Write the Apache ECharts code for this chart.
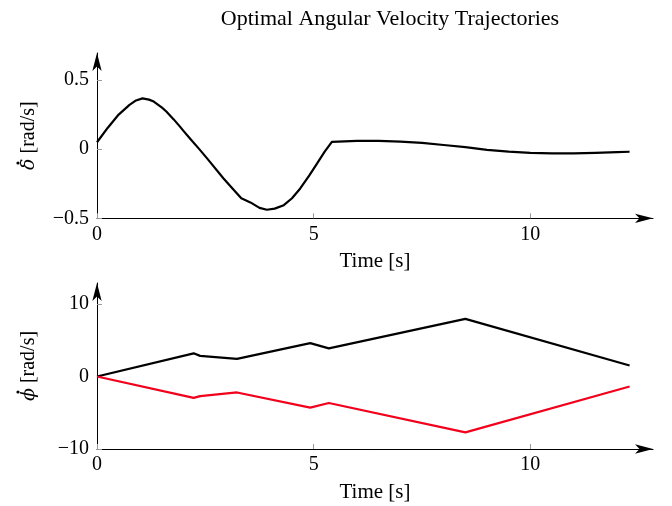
<!DOCTYPE html>
<html>
<head>
<meta charset="utf-8">
<script src="https://cdn.jsdelivr.net/npm/echarts@6/dist/echarts.min.js"></script>
<style>
  html, body { margin: 0; padding: 0; background: #fff; }
  #main { width: 672px; height: 506px; }
</style>
</head>
<body>
<div id="main"></div>
<script>
  // δ̇ (top plot) — time [s], rate [rad/s]
  var deltaT = [0, 0.25, 0.5, 0.75, 0.9, 1.05, 1.2, 1.31, 1.5, 1.6, 1.77, 1.9, 2.0, 2.15, 2.36,
                2.54, 2.92, 3.23, 3.33, 3.54, 3.75, 3.92, 4.1, 4.31, 4.5, 4.69, 4.9, 5.08, 5.25,
                5.42, 6.0, 6.5, 7.0, 7.5, 8.0, 8.5, 9.0, 9.5, 10.0, 10.5, 11.0, 11.5, 12.0, 12.29];
  var deltaV = [0.05, 0.155, 0.25, 0.32, 0.352, 0.367, 0.358, 0.344, 0.3, 0.272, 0.215, 0.168, 0.13, 0.075, 0.0,
                -0.067, -0.212, -0.32, -0.355, -0.385, -0.425, -0.438, -0.43, -0.405, -0.355, -0.284, -0.19, -0.103, -0.02,
                0.053, 0.06, 0.06, 0.055, 0.045, 0.03, 0.015, -0.005, -0.018, -0.027, -0.03, -0.03, -0.027, -0.022, -0.019];

  // φ̇ (bottom plot), two wheels
  var phiT = [0, 2.23, 2.38, 3.23, 4.92, 5.35, 8.5, 12.29];
  var phiBlack = [0, 3.2, 2.85, 2.44, 4.6, 3.88, 7.95, 1.52];
  var phiRed = [0, -2.95, -2.7, -2.2, -4.3, -3.65, -7.7, -1.38];

  var xTicks = [0, 5, 10];
  var deltaTicks = [-0.5, 0, 0.5];
  var phiTicks = [-10, 0, 10];

  function pairs(xs, ys) {
    return xs.map(function (x, i) { return [x, ys[i]]; });
  }
  function fmt(v) {
    return String(v).replace('-', '\u2212');
  }

  var serif = '"Liberation Serif", "DejaVu Serif", serif';
  var arrowLine = {
    onZero: false,
    symbol: ['none', 'arrow'],
    symbolSize: [7, 18],
    lineStyle: { color: '#000', width: 1 }
  };

  function xAxis(idx) {
    return {
      type: 'value', gridIndex: idx, min: 0, max: 12.83,
      name: 'Time [s]', nameLocation: 'middle', nameGap: 33,
      nameTextStyle: { fontFamily: serif, fontSize: 21, color: '#000' },
      axisLine: arrowLine,
      axisTick: { inside: true, length: 5, customValues: xTicks, lineStyle: { color: '#999' } },
      axisLabel: { customValues: xTicks, margin: 6, fontFamily: serif, fontSize: 20, color: '#000', formatter: fmt },
      splitLine: { show: false }
    };
  }
  function yAxis(idx, min, max, ticks, sym) {
    return {
      type: 'value', gridIndex: idx, min: min, max: max,
      name: '{s|' + sym + '} [rad/s]', nameLocation: 'middle', nameRotate: 90, nameGap: 58,
      nameTextStyle: {
        fontFamily: serif, fontSize: 20, color: '#000',
        rich: { s: { fontFamily: '"DejaVu Serif", serif', fontStyle: 'italic', fontSize: 19, color: '#000' } }
      },
      axisLine: arrowLine,
      axisTick: { inside: true, length: 5, customValues: ticks, lineStyle: { color: '#999' } },
      axisLabel: { customValues: ticks, margin: 8, fontFamily: serif, fontSize: 20, color: '#000', formatter: fmt },
      splitLine: { show: false }
    };
  }

  // the dot accent over δ and ϕ in the rotated axis names
  function accentDot(x, y) {
    return { type: 'circle', left: x - 1.6, top: y - 1.6, shape: { r: 1.6 }, style: { fill: '#000' } };
  }

  var chart = echarts.init(document.getElementById('main'), null, { renderer: 'canvas' });
  chart.setOption({
    animation: false,
    backgroundColor: '#fff',
    title: {
      text: 'Optimal Angular Velocity Trajectories',
      left: 385, top: 3, textAlign: 'center',
      textStyle: { fontFamily: serif, fontSize: 22, fontWeight: 'normal', color: '#000' }
    },
    grid: [
      { left: 97, top: 53, width: 556, height: 165.3 },
      { left: 97, top: 283, width: 556, height: 166 }
    ],
    xAxis: [xAxis(0), xAxis(1)],
    yAxis: [
      yAxis(0, -0.5, 0.695, deltaTicks, '\u03B4'),
      yAxis(1, -10, 12.9, phiTicks, '\u03D5')
    ],
    graphic: [accentDot(18, 163), accentDot(18, 392)],
    series: [
      { type: 'line', xAxisIndex: 0, yAxisIndex: 0, data: pairs(deltaT, deltaV),
        showSymbol: false, lineStyle: { color: '#000', width: 2.2, join: 'round' } },
      { type: 'line', xAxisIndex: 1, yAxisIndex: 1, data: pairs(phiT, phiBlack),
        showSymbol: false, lineStyle: { color: '#000', width: 2.2, join: 'round' } },
      { type: 'line', xAxisIndex: 1, yAxisIndex: 1, data: pairs(phiT, phiRed),
        showSymbol: false, lineStyle: { color: '#f2001c', width: 2.2, join: 'round' } }
    ]
  });
</script>
</body>
</html>
